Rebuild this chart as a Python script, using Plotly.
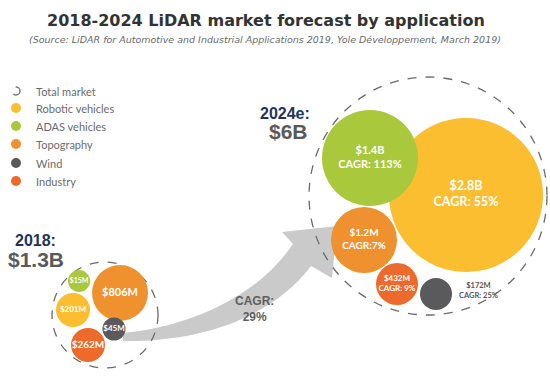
import plotly.graph_objects as go

# ---------------- data ----------------
segments = ["Robotic vehicles", "ADAS vehicles", "Topography", "Wind", "Industry"]
value_2018_musd = [201, 15, 806, 45, 262]
value_2024_musd = [2800, 1400, 1.2, 172, 432]   # "$1.2M" as printed in the source
cagr_pct = [55, 113, 7, 25, 9]
total_2018 = "$1.3B"
total_2024 = "$6B"
total_cagr = 29
legend_items = ["Total market"] + segments

# ---------------- styles / layout constants ----------------
colors = ["#FBBE30", "#A9C83B", "#F0912F", "#5A5A5C", "#EC6A2B"]
W, H = 550, 386

# bubble placement (pixel space) for each segment
pos18_x = [73, 79, 120, 114, 88]
pos18_y = [310, 281, 293, 329, 345]
rad18 = [17, 11, 28, 11.5, 17]
font18 = [8, 7, 11, 8, 10]

pos24_x = [466, 370, 364, 436, 397]
pos24_y = [195, 158, 240, 294, 284]
rad24 = [77, 48, 33, 16, 21]
font24 = [12.5, 11, 10, 8, 8]

circ18 = (105, 315, 53)
circ24 = (428, 196, 119)


def fmt(v):
    return f"${v/1000:.1f}B" if v >= 1000 else f"${v:g}M"


text18 = [f"<b>{fmt(v)}</b>" for v in value_2018_musd]
text24 = []
for i, (v, c) in enumerate(zip(value_2024_musd, cagr_pct)):
    if segments[i] == "Wind":
        text24.append("")
    elif segments[i] == "Topography":
        text24.append(f"<b>{fmt(v)}<br>CAGR:{c}%</b>")
    else:
        text24.append(f"<b>{fmt(v)}<br>CAGR: {c}%</b>")

fig = go.Figure()

LB = "Lato"
HB = "Liberation Sans"

# arrow (drawn beneath everything)
arrow_path = ("M 123,333 C 190,327 258,296 293,244 L 282,232 L 337,226 "
              "L 332,278 L 311,266 C 272,318 200,342 123,341 Z")
shapes = [
    dict(type="path", path=arrow_path, fillcolor="#CACACA", line=dict(width=0),
         layer="below", xref="x", yref="y"),
]
for cx, cy, r in (circ18, circ24):
    shapes.append(dict(type="circle", x0=cx - r, x1=cx + r, y0=cy - r, y1=cy + r,
                       line=dict(color="#6B6B6B", width=1.3, dash="dash"),
                       fillcolor="rgba(0,0,0,0)", layer="below", xref="x", yref="y"))

# bubbles 2018
fig.add_trace(go.Scatter(
    x=pos18_x, y=pos18_y, mode="markers+text",
    marker=dict(size=[2 * r for r in rad18], color=colors, line=dict(width=0), opacity=1),
    text=text18, textposition="middle center",
    textfont=dict(family=LB, size=font18, color="white"),
    hoverinfo="skip", showlegend=False))

# bubbles 2024
fig.add_trace(go.Scatter(
    x=pos24_x, y=pos24_y, mode="markers+text",
    marker=dict(size=[2 * r for r in rad24], color=colors, line=dict(width=0), opacity=1),
    text=text24, textposition="middle center",
    textfont=dict(family=LB, size=font24, color="white"),
    hoverinfo="skip", showlegend=False))

# legend (manual)
leg_y = [91, 108, 126, 144, 163, 181]
fig.add_trace(go.Scatter(
    x=[16] * 5, y=leg_y[1:], mode="markers",
    marker=dict(size=10, color=colors, line=dict(width=0)),
    hoverinfo="skip", showlegend=False))
shapes.append(dict(type="circle", x0=12, x1=20, y0=leg_y[0] - 4, y1=leg_y[0] + 4,
                   line=dict(color="#777777", width=1.5, dash="dash"),
                   xref="x", yref="y"))

annotations = []
for name, y in zip(legend_items, leg_y):
    annotations.append(dict(x=34, y=y, text=name, showarrow=False, xanchor="left",
                            yanchor="middle", font=dict(family=LB, size=11, color="#6B6B6B")))

# Wind 2024 label outside the bubble
w = segments.index("Wind")
annotations.append(dict(x=478, y=290,
                        text=f"<b>{fmt(value_2024_musd[w])}<br>CAGR: {cagr_pct[w]}%</b>",
                        showarrow=False, xanchor="center", yanchor="middle",
                        font=dict(family=LB, size=7.5, color="#555555")))

# totals
annotations += [
    dict(x=35, y=240, text="<b>2018:</b>", showarrow=False, xanchor="center", yanchor="middle",
         font=dict(family=HB, size=16, color="#1D355C")),
    dict(x=36, y=259, text=f"<b>{total_2018}</b>", showarrow=False, xanchor="center",
         yanchor="middle", font=dict(family=HB, size=21, color="#5A5A5A")),
    dict(x=312, y=113, text="<b>2024e:</b>", showarrow=False, xanchor="right", yanchor="middle",
         font=dict(family=HB, size=16, color="#1D355C")),
    dict(x=310, y=131, text=f"<b>{total_2024}</b>", showarrow=False, xanchor="right",
         yanchor="middle", font=dict(family=HB, size=21, color="#5A5A5A")),
    dict(x=254, y=309, text=f"<b>CAGR:<br>{total_cagr}%</b>", showarrow=False,
         xanchor="center", yanchor="middle",
         font=dict(family=HB, size=12, color="#5E5E5E")),
    # title + subtitle
    dict(x=266, y=20, text="<b>2018-2024 LiDAR market forecast by application</b>",
         showarrow=False, xanchor="center", yanchor="middle",
         font=dict(family="DejaVu Sans", size=16, color="#333333")),
    dict(x=265, y=39,
         text="<i>(Source: LiDAR for Automotive and Industrial Applications 2019, Yole Développement, March 2019)</i>",
         showarrow=False, xanchor="center", yanchor="middle",
         font=dict(family="DejaVu Sans", size=9.5, color="#6A6A6A")),
]

fig.update_layout(
    width=W, height=H, margin=dict(l=0, r=0, t=0, b=0),
    paper_bgcolor="white", plot_bgcolor="white",
    xaxis=dict(range=[0, W], visible=False, fixedrange=True),
    yaxis=dict(range=[H, 0], visible=False, fixedrange=True),
    shapes=shapes, annotations=annotations, showlegend=False,
)

fig.write_html("out.html", post_script="document.body.style.margin='0';",
               config={"displayModeBar": False})
